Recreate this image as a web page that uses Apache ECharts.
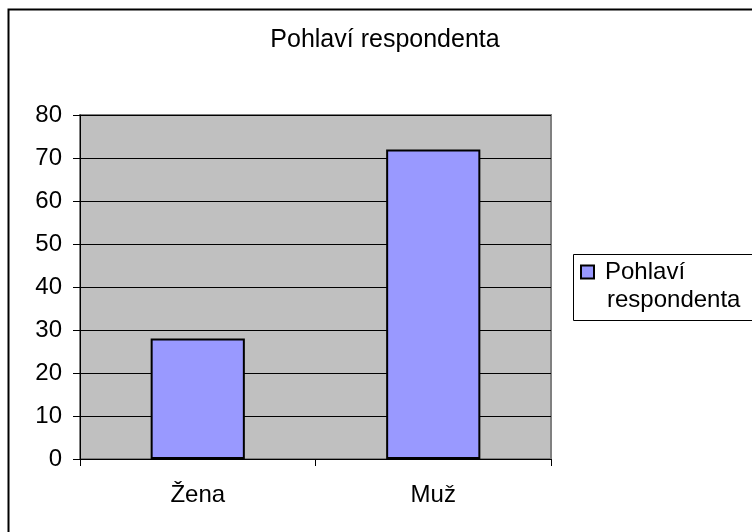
<!DOCTYPE html>
<html>
<head>
<meta charset="utf-8">
<script src="https://cdn.jsdelivr.net/npm/echarts@6/dist/echarts.min.js"></script>
<style>
  html, body { margin: 0; padding: 0; background: #fff; }
  #chartBarBox { width: 752px; height: 532px; }
</style>
</head>
<body>
<div id="chartBarBox"></div>
<script>
// data
const titleText = 'Pohlaví respondenta';
const seriesName = 'Pohlaví respondenta';
const categories = ['Žena', 'Muž'];
const values = [28, 72];
const yTicks = [0, 10, 20, 30, 40, 50, 60, 70, 80];

const font = "'Liberation Sans', Arial, sans-serif";
const barColor = '#9999ff';

const chart = echarts.init(document.getElementById('chartBarBox'), null, { renderer: 'canvas' });

const option = {
  backgroundColor: '#fff',
  animation: false,
  textStyle: { fontFamily: font },
  title: {
    text: titleText,
    left: 385,
    textAlign: 'center',
    top: 28,
    padding: 0,
    textStyle: { fontFamily: font, fontSize: 25, fontWeight: 'normal', color: '#000' }
  },
  graphic: [
    // outer chart frame
    {
      type: 'rect',
      silent: true,
      shape: { x: 8.5, y: 9.5, width: 800, height: 600 },
      style: { fill: 'none', stroke: '#000', lineWidth: 2 }
    },
    // legend frame, runs off the right edge like in the original
    {
      type: 'polyline',
      silent: true,
      shape: { points: [[770, 254.5], [573.5, 254.5], [573.5, 320.5], [770, 320.5]] },
      style: { fill: 'none', stroke: '#000', lineWidth: 1 }
    }
  ],
  legend: {
    left: 573,
    top: 254,
    orient: 'vertical',
    icon: 'none',
    itemWidth: 0,
    itemHeight: 12,
    selectedMode: false,
    padding: [4, 10, 7, 4],
    borderWidth: 0,
    formatter: function (name) {
      const parts = name.split(' ');
      return '{sq|}{gap|}' + parts[0] + '\n{ind|}' + parts.slice(1).join(' ');
    },
    textStyle: {
      fontFamily: font,
      fontSize: 24,
      lineHeight: 28,
      color: '#000',
      rich: {
        sq: { width: 11, height: 11, backgroundColor: barColor, borderColor: '#000', borderWidth: 2 },
        gap: { width: 12 },
        ind: { width: 25 }
      }
    }
  },
  grid: {
    left: 80,
    right: 201,
    top: 115,
    bottom: 73,
    show: true,
    backgroundColor: '#c0c0c0',
    borderColor: '#808080',
    borderWidth: 2,
    containLabel: false
  },
  xAxis: {
    type: 'category',
    data: categories,
    boundaryGap: true,
    axisLine: { lineStyle: { color: '#000', width: 1 } },
    axisTick: { show: true, length: 7, alignWithLabel: false, lineStyle: { color: '#000' } },
    axisLabel: { margin: 24, fontFamily: font, fontSize: 24, color: '#000' },
    splitLine: { show: false }
  },
  yAxis: {
    type: 'value',
    min: yTicks[0],
    max: yTicks[yTicks.length - 1],
    interval: yTicks[1] - yTicks[0],
    axisLine: { show: true, lineStyle: { color: '#000', width: 1 } },
    axisTick: { show: true, length: 7, lineStyle: { color: '#000' } },
    axisLabel: { margin: 18, fontFamily: font, fontSize: 24, color: '#000' },
    splitLine: { show: true, lineStyle: { color: '#000', width: 1 } }
  },
  series: [
    {
      name: seriesName,
      type: 'bar',
      data: values,
      barCategoryGap: '60%',
      itemStyle: { color: barColor, borderColor: '#000', borderWidth: 2 }
    }
  ]
};

chart.setOption(option);
</script>
</body>
</html>
